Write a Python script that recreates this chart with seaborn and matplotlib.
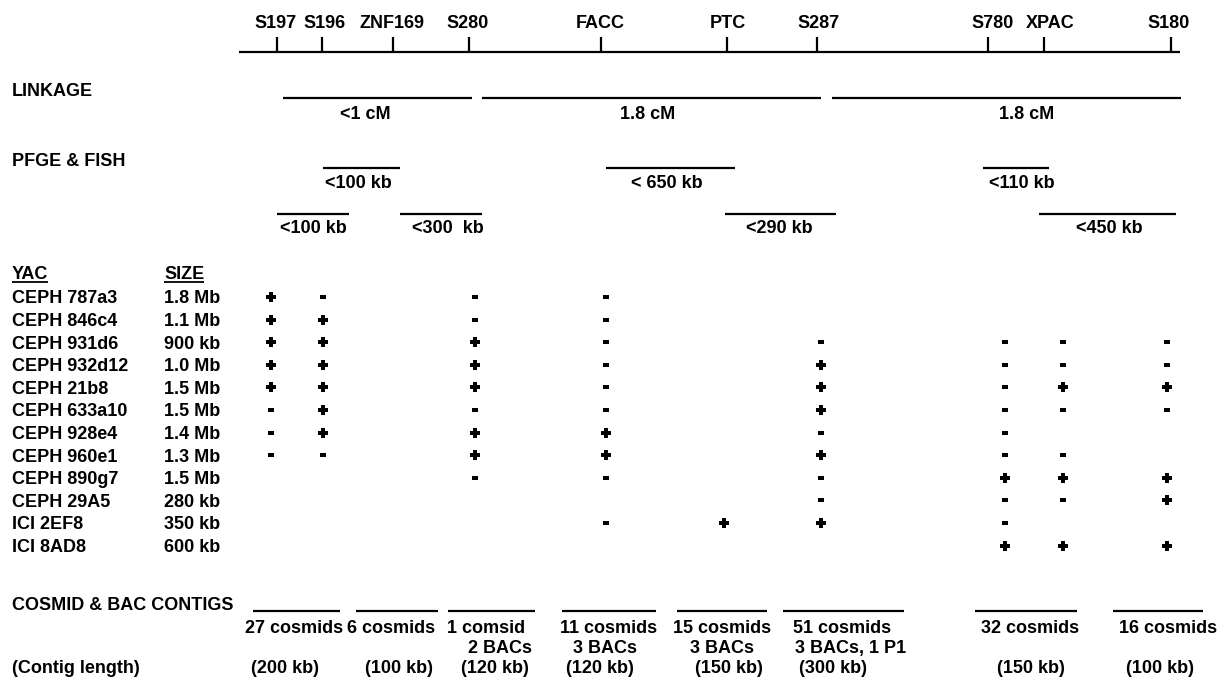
import matplotlib
matplotlib.use("Agg")
import matplotlib.pyplot as plt
import seaborn as sns
import pandas as pd

# ---------------------------------------------------------------- data
markers = ["S197", "S196", "ZNF169", "S280", "FACC", "PTC", "S287", "S780", "XPAC", "S180"]
marker_pos = [277, 322, 393, 469, 601, 727, 817, 988, 1044, 1171]

linkage_spans = [(283, 472), (482, 821), (832, 1181)]
linkage_labels = ["<1 cM", "1.8 cM", "1.8 cM"]

pfge_row1_spans = [(323, 400), (606, 735), (983, 1049)]
pfge_row1_labels = ["<100 kb", "< 650 kb", "<110 kb"]
pfge_row2_spans = [(277, 349), (400, 482), (725, 836), (1039, 1176)]
pfge_row2_labels = ["<100 kb", "<300  kb", "<290 kb", "<450 kb"]

probes = ["S197", "S196", "S280", "FACC", "PTC", "S287", "S780", "XPAC", "S180"]
yac_names = ["CEPH 787a3", "CEPH 846c4", "CEPH 931d6", "CEPH 932d12", "CEPH 21b8",
             "CEPH 633a10", "CEPH 928e4", "CEPH 960e1", "CEPH 890g7", "CEPH 29A5",
             "ICI 2EF8", "ICI 8AD8"]
yac_sizes = ["1.8 Mb", "1.1 Mb", "900 kb", "1.0 Mb", "1.5 Mb", "1.5 Mb", "1.4 Mb",
             "1.3 Mb", "1.5 Mb", "280 kb", "350 kb", "600 kb"]
# STS content per YAC, one entry per probe ('' = not tested)
yac_results = [
    ["+", "-", "-", "-", "", "", "", "", ""],
    ["+", "+", "-", "-", "", "", "", "", ""],
    ["+", "+", "+", "-", "", "-", "-", "-", "-"],
    ["+", "+", "+", "-", "", "+", "-", "-", "-"],
    ["+", "+", "+", "-", "", "+", "-", "+", "+"],
    ["-", "+", "-", "-", "", "+", "-", "-", "-"],
    ["-", "+", "+", "+", "", "-", "-", "", ""],
    ["-", "-", "+", "+", "", "+", "-", "-", ""],
    ["", "", "-", "-", "", "-", "+", "+", "+"],
    ["", "", "", "", "", "-", "-", "-", "+"],
    ["", "", "", "-", "+", "+", "-", "", ""],
    ["", "", "", "", "", "", "+", "+", "+"],
]

contig_spans = [(253, 340), (356, 438), (448, 535), (562, 656),
                (677, 767), (783, 904), (975, 1077), (1113, 1203)]
contig_clones = ["27 cosmids", "6 cosmids", "1 comsid", "11 cosmids",
                 "15 cosmids", "51 cosmids", "32 cosmids", "16 cosmids"]
contig_bacs = ["", "", "2 BACs", "3 BACs", "3 BACs", "3 BACs, 1 P1", "", ""]
contig_lengths = ["(200 kb)", "(100 kb)", "(120 kb)", "(120 kb)",
                  "(150 kb)", "(300 kb)", "(150 kb)", "(100 kb)"]

# ---------------------------------------------------------------- layout
W, H = 1225, 692
FS = 13                      # points
CAP = 0.716 * FS * 100 / 72  # cap height in pixels
LW = 1.6
LEFT_X = 12
SIZE_X = 164

probe_col_x = [271, 323, 475, 606, 724, 821, 1005, 1063, 1167]
tick_label_x = [276, 325, 392, 468, 600, 728, 819, 993, 1050, 1169]
linkage_label_x = [365, 648, 1027]
pfge_row1_label_x = [358, 667, 1022]
pfge_row2_label_x = [313, 448, 779, 1109]
clone_x = [294, 391, 486, 609, 722, 842, 1030, 1168]
bac_x = [0, 0, 500, 605, 722, 851, 0, 0]
length_x = [285, 399, 495, 600, 729, 833, 1031, 1160]

Y_TICKLABEL, Y_AXIS, Y_TICKTOP = 22, 52, 37
Y_LINK_TITLE, Y_LINK_LINE, Y_LINK_LABEL = 90, 98, 113
Y_PFGE_TITLE, Y_PFGE1_LINE, Y_PFGE1_LABEL = 160, 168, 182
Y_PFGE2_LINE, Y_PFGE2_LABEL = 214, 227
Y_YAC_HEAD, Y_ROW0, ROW_STEP = 273, 297, 22.6
Y_CONTIG_TITLE, Y_CONTIG_LINE = 604, 611
Y_CLONES, Y_BACS, Y_LENGTH = 627, 647, 667

# ---------------------------------------------------------------- figure
sns.set_theme(style="white")
plt.rcParams["font.family"] = ["Liberation Sans", "DejaVu Sans"]

fig = plt.figure(figsize=(W / 100, H / 100), dpi=100)
ax = fig.add_axes([0, 0, 1, 1])


def label(x, yc, s, ha="center"):
    """Bold text whose capitals are vertically centred on yc."""
    return ax.text(x, yc + CAP / 2, s, ha=ha, va="baseline",
                   fontsize=FS, fontweight="bold", color="black")


def seg(x0, x1, y):
    ax.plot([x0, x1], [y, y], color="black", lw=LW, solid_capstyle="butt")


# map axis with marker ticks
seg(239, 1180, Y_AXIS)
ax.vlines(marker_pos, Y_TICKTOP, Y_AXIS, color="black", lw=LW)
for name, x in zip(markers, tick_label_x):
    label(x, Y_TICKLABEL, name)

# linkage
label(LEFT_X, Y_LINK_TITLE, "LINKAGE", ha="left")
for (x0, x1), s, lx in zip(linkage_spans, linkage_labels, linkage_label_x):
    seg(x0, x1, Y_LINK_LINE)
    label(lx, Y_LINK_LABEL, s)

# PFGE & FISH
label(LEFT_X, Y_PFGE_TITLE, "PFGE & FISH", ha="left")
for (x0, x1), s, lx in zip(pfge_row1_spans, pfge_row1_labels, pfge_row1_label_x):
    seg(x0, x1, Y_PFGE1_LINE)
    label(lx, Y_PFGE1_LABEL, s)
for (x0, x1), s, lx in zip(pfge_row2_spans, pfge_row2_labels, pfge_row2_label_x):
    seg(x0, x1, Y_PFGE2_LINE)
    label(lx, Y_PFGE2_LABEL, s)

# YAC table headers (underlined)
heads = [label(LEFT_X, Y_YAC_HEAD, "YAC", ha="left"),
         label(SIZE_X, Y_YAC_HEAD, "SIZE", ha="left")]
row_y = [Y_ROW0 + i * ROW_STEP for i in range(len(yac_names))]
for name, size, y in zip(yac_names, yac_sizes, row_y):
    label(LEFT_X, y, name, ha="left")
    label(SIZE_X, y, size, ha="left")

# STS content as a long table -> scatter of +/- symbols
records = []
for i, row in enumerate(yac_results):
    for j, res in enumerate(row):
        if res:
            records.append({"yac": yac_names[i], "probe": probes[j], "result": res,
                            "x": probe_col_x[j], "y": row_y[i]})
sts = pd.DataFrame(records)

t = 0.34
plus_verts = [(-t, -1), (t, -1), (t, -t), (1, -t), (1, t), (t, t), (t, 1),
              (-t, 1), (-t, t), (-1, t), (-1, -t), (-t, -t), (-t, -1)]
minus_verts = [(-1, -0.5), (1, -0.5), (1, 0.5), (-1, 0.5), (-1, -0.5)]

sns.scatterplot(data=sts[sts["result"] == "+"], x="x", y="y", marker=plus_verts,
                s=62, color="black", linewidth=0, ax=ax, legend=False)
sns.scatterplot(data=sts[sts["result"] == "-"], x="x", y="y", marker=minus_verts,
                s=24, color="black", linewidth=0, ax=ax, legend=False)

# cosmid & BAC contigs
label(LEFT_X, Y_CONTIG_TITLE, "COSMID & BAC CONTIGS", ha="left")
label(LEFT_X, Y_LENGTH, "(Contig length)", ha="left")
for i, (x0, x1) in enumerate(contig_spans):
    seg(x0, x1, Y_CONTIG_LINE)
    label(clone_x[i], Y_CLONES, contig_clones[i])
    if contig_bacs[i]:
        label(bac_x[i], Y_BACS, contig_bacs[i])
    label(length_x[i], Y_LENGTH, contig_lengths[i])

ax.set_xlim(0, W)
ax.set_ylim(H, 0)
ax.axis("off")

# underline the table headers
fig.canvas.draw()
renderer = fig.canvas.get_renderer()
inv = ax.transData.inverted()
for txt in heads:
    bb = txt.get_window_extent(renderer)
    (xa, _), (xb, _) = inv.transform([(bb.x0, bb.y0), (bb.x1, bb.y0)])
    yb = Y_YAC_HEAD + CAP / 2 + 2.5
    ax.plot([xa, xb], [yb, yb], color="black", lw=1.3, solid_capstyle="butt")

ax.set_xlim(0, W)
ax.set_ylim(H, 0)
fig.savefig("out.png", dpi=100, facecolor="white")
